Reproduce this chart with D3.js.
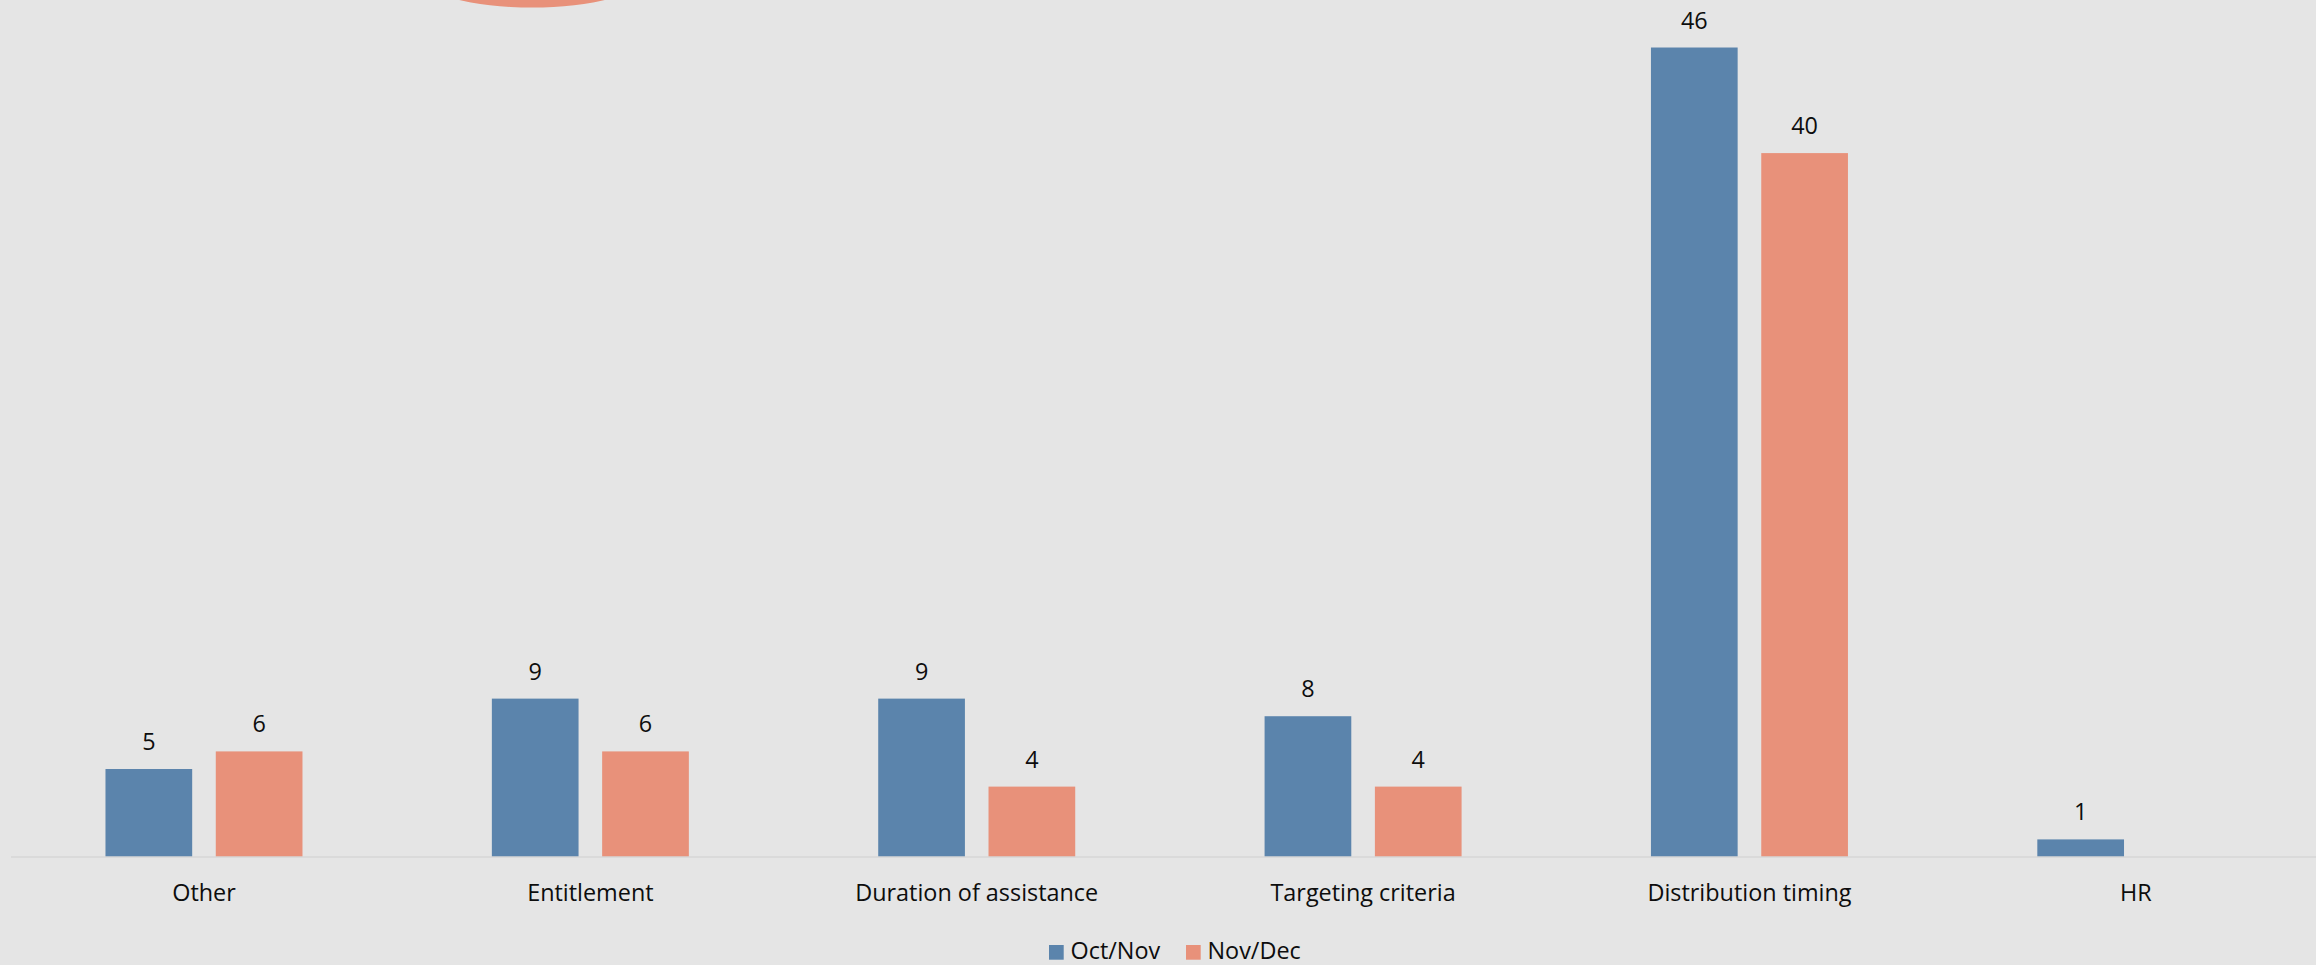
<!DOCTYPE html>
<html>
<head>
<meta charset="utf-8">
<script src="https://cdn.jsdelivr.net/npm/d3@7"></script>
<style>
  html, body { margin: 0; padding: 0; background: #e5e5e5; }
  svg { display: block; }
  text { font-family: "Open Sans", "Noto Sans", sans-serif; fill: #0d0d0d; }
</style>
</head>
<body>
<svg id="chart" width="2316" height="965"></svg>
<script>
// Feedback categories and counts per period
const categories = ["Other", "Entitlement", "Duration of assistance", "Targeting criteria", "Distribution timing", "HR"];
const seriesNames = ["Oct/Nov", "Nov/Dec"];
const octNov = [5, 9, 9, 8, 46, 1];
const novDec = [6, 6, 4, 4, 40, null];
const seriesColors = ["#5b84ac", "#e8917a"];

const W = 2316, H = 965;
const FS = 23.4;
const svg = d3.select("#chart");

svg.append("rect").attr("width", W).attr("height", H).attr("fill", "#e5e5e5");

const baseY = 857;
const x = d3.scaleBand().domain(categories).range([10.8, 2329]).paddingInner(0).paddingOuter(0);
const groupW = 197;
const xs = d3.scaleBand().domain(seriesNames)
  .range([x.bandwidth() / 2 - groupW / 2, x.bandwidth() / 2 + groupW / 2])
  .paddingInner(0.214).paddingOuter(0);
const y = d3.scaleLinear().domain([0, 48.7]).range([baseY, 0]);

// decorative callout shape peeking in at the top
svg.append("ellipse")
  .attr("cx", 532).attr("cy", 7.5 - 30).attr("rx", 110).attr("ry", 30)
  .attr("fill", "#e8917a");

const rows = categories.map((c, i) => ({ cat: c, vals: [octNov[i], novDec[i]] }));

const groups = svg.append("g").selectAll("g").data(rows).join("g")
  .attr("transform", d => `translate(${x(d.cat)},0)`);

groups.selectAll("rect")
  .data(d => d.vals.map((v, j) => ({ s: seriesNames[j], v, j })).filter(e => e.v != null))
  .join("rect")
  .attr("x", e => xs(e.s))
  .attr("width", xs.bandwidth())
  .attr("y", e => y(e.v))
  .attr("height", e => baseY - y(e.v))
  .attr("fill", e => seriesColors[e.j]);

groups.selectAll("text.val")
  .data(d => d.vals.map((v, j) => ({ s: seriesNames[j], v, j })).filter(e => e.v != null))
  .join("text")
  .attr("class", "val")
  .attr("x", e => xs(e.s) + xs.bandwidth() / 2)
  .attr("y", e => y(e.v) - 19)
  .attr("text-anchor", "middle")
  .attr("font-size", FS)
  .text(e => e.v);

// baseline axis
const xAxis = d3.axisBottom(x).tickSize(0).tickPadding(0);
const ax = svg.append("g").attr("transform", `translate(0,${baseY})`).call(xAxis);
ax.select(".domain").attr("d", `M11,0H${W}`).attr("stroke", "#d6d6d6").attr("stroke-width", 1.5);
ax.selectAll(".tick text")
  .attr("y", 44).attr("dy", null)
  .attr("font-size", FS)
  .style("font-family", '"Open Sans", "Noto Sans", sans-serif')
  .attr("fill", "#0d0d0d");

// legend
const legend = svg.append("g");
const legendItems = [{ name: seriesNames[0], x: 1049 }, { name: seriesNames[1], x: 1186 }];
legendItems.forEach((it, i) => {
  legend.append("rect").attr("x", it.x).attr("y", 945).attr("width", 14.7).attr("height", 14.7)
    .attr("fill", seriesColors[i]);
  legend.append("text").attr("x", it.x + 21.5).attr("y", 959).attr("font-size", FS).text(it.name);
});
</script>
</body>
</html>
